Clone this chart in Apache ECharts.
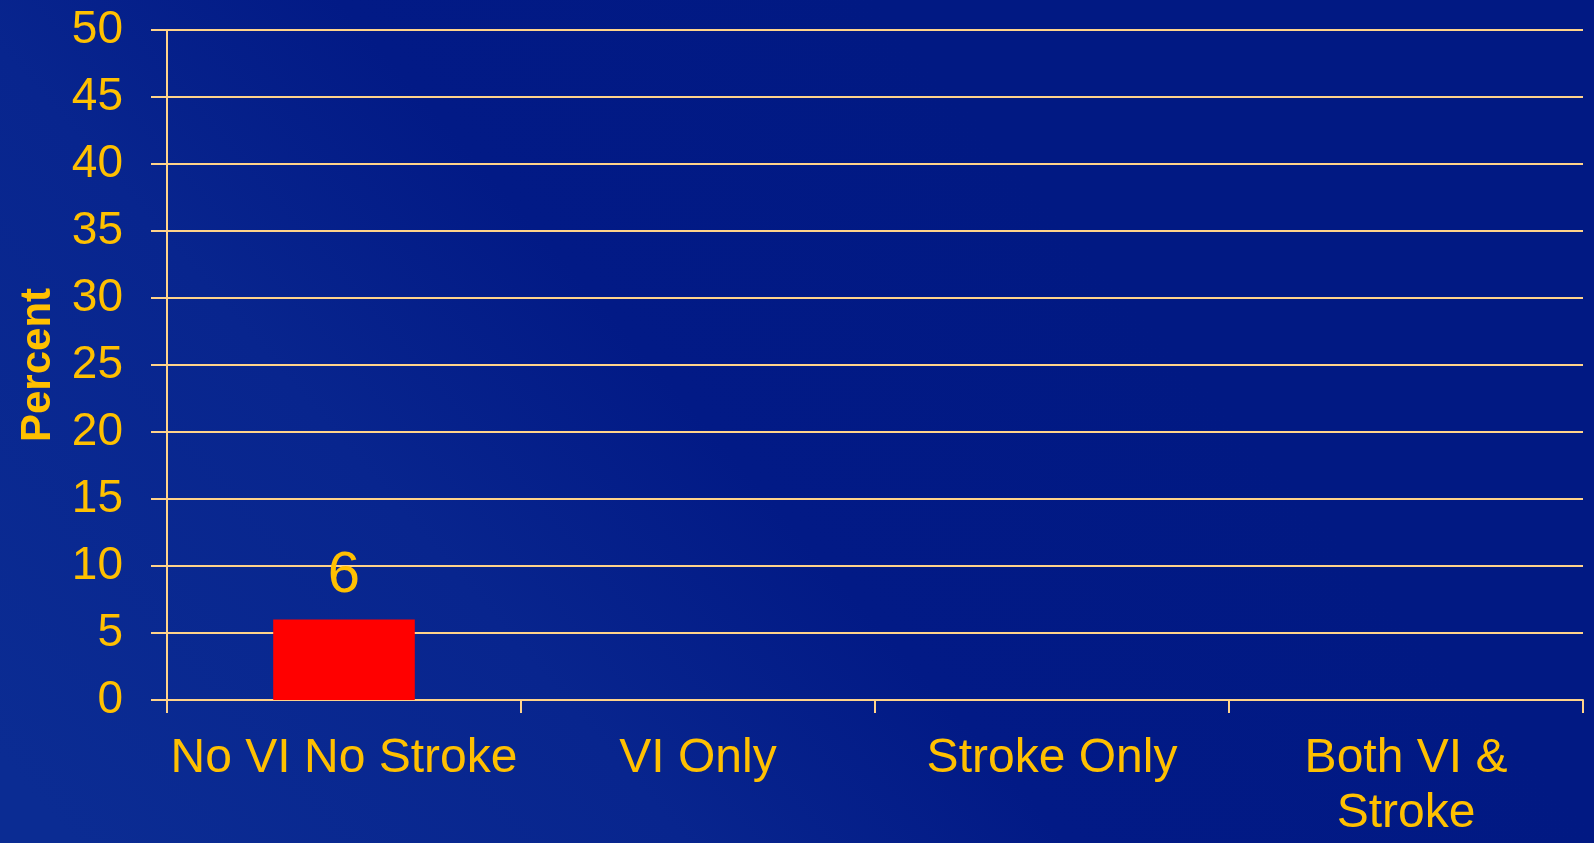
<!DOCTYPE html>
<html>
<head>
<meta charset="utf-8">
<script src="https://cdn.jsdelivr.net/npm/echarts@6/dist/echarts.min.js"></script>
<style>
  html, body { margin: 0; padding: 0; }
  #panel { width: 1594px; height: 843px; }
</style>
</head>
<body>
<div id="panel"></div>
<script>
const categories = ['No VI No Stroke', 'VI Only', 'Stroke Only', 'Both VI &\nStroke'];
const percentValues = [6, '-', '-', '-'];
const yMin = 0;
const yMax = 50;
const yStep = 5;

const TEXT = '#FFC000';
const LINE = '#FFD38A';

const myChart = echarts.init(document.getElementById('panel'));

const option = {
  backgroundColor: {
    type: 'linear',
    x: 0, y: 0.9, x2: 0.55, y2: 0,
    colorStops: [
      { offset: 0, color: '#0b2c93' },
      { offset: 0.4, color: '#08258e' },
      { offset: 0.65, color: '#021a86' },
      { offset: 1, color: '#011983' },
    ],
  },
  animation: false,
  grid: {
    // 画图区域
    left: 167,
    right: 11,
    top: 30,
    bottom: 143,
    containLabel: false,
    outerBoundsMode: 'none',
  },
  xAxis: {
    type: 'category',
    data: categories,
    axisLine: { show: true, lineStyle: { color: LINE, width: 2 } },
    axisTick: { show: true, length: 13, lineStyle: { color: LINE, width: 2 } },
    axisLabel: {
      color: TEXT,
      fontFamily: 'Liberation Sans',
      fontSize: 48,
      lineHeight: 55,
      margin: 31,
      interval: 0,
    },
  },
  yAxis: {
    type: 'value',
    min: yMin,
    max: yMax,
    interval: yStep,
    name: 'Percent',
    nameLocation: 'middle',
    nameGap: 108,
    nameRotate: 90,
    nameTextStyle: {
      color: TEXT,
      fontFamily: 'Liberation Sans',
      fontWeight: 'bold',
      fontSize: 42,
    },
    axisLine: { show: true, lineStyle: { color: LINE, width: 2 } },
    axisTick: { show: true, inside: false, length: 16, lineStyle: { color: LINE, width: 2 } },
    axisLabel: {
      color: TEXT,
      fontFamily: 'Liberation Sans',
      fontSize: 46,
      margin: 44,
      padding: [14, 0, 0, 0],
    },
    splitLine: { show: true, lineStyle: { color: LINE, width: 2 } },
  },
  series: [
    {
      name: 'Percent',
      type: 'bar',
      data: percentValues,
      barWidth: '40%',
      itemStyle: { color: '#FF0000' },
      label: {
        show: true,
        position: 'top',
        distance: 15,
        color: TEXT,
        fontFamily: 'Liberation Sans',
        fontSize: 58,
      },
    },
  ],
};

myChart.setOption(option);
</script>
</body>
</html>
